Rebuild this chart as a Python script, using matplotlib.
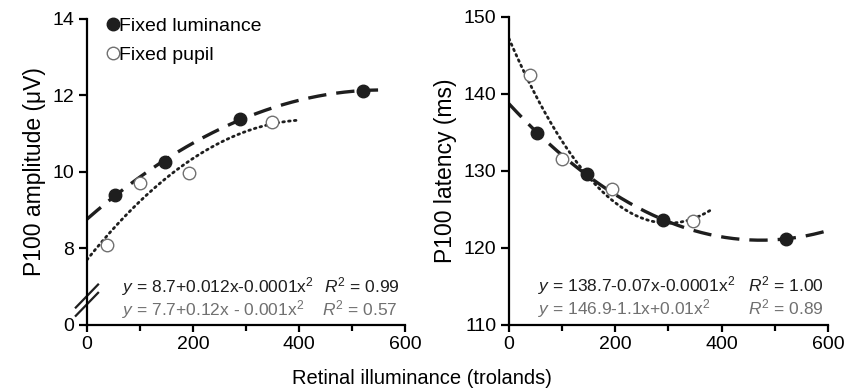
#P100 amplitude and latency vs retinal illuminance, two panels
import numpy as np
import matplotlib.pyplot as plt

plt.rcParams['font.family'] = ['Liberation Sans', 'DejaVu Sans']
plt.rcParams['mathtext.fontset'] = 'custom'
plt.rcParams['mathtext.rm'] = 'Liberation Sans'
plt.rcParams['mathtext.it'] = 'Liberation Sans:italic'

#values
lum_x = [53, 147, 289, 521]
lum_amp = [9.4, 10.26, 11.39, 12.12]
lum_lat = [134.9, 129.6, 123.6, 121.2]

pup_x_amp = [37, 100, 192, 349]
pup_amp = [8.09, 9.71, 9.97, 11.31]
pup_x_lat = [39, 100, 194, 346]
pup_lat = [142.5, 131.5, 127.7, 123.5]

#x range of each fitted curve
fit_end = {'amp_lum': 549, 'amp_pup': 400, 'lat_lum': 600, 'lat_pup': 380}

eq_amp = [r'$y$ = 8.7+0.012x-0.0001x$^2$', r'$y$ = 7.7+0.12x - 0.001x$^2$']
r2_amp = [r'$R^2$ = 0.99', r'$R^2$ = 0.57']
eq_lat = [r'$y$ = 138.7-0.07x-0.0001x$^2$', r'$y$ = 146.9-1.1x+0.01x$^2$']
r2_lat = [r'$R^2$ = 1.00', r'$R^2$ = 0.89']

dark = '#1e1e1e'
grey = '#707070'

fig = plt.figure(figsize=(8.44, 3.92), dpi=100)
ax1 = fig.add_axes([0.103, 0.171, 0.377, 0.781])
ax2 = fig.add_axes([0.603, 0.171, 0.378, 0.786])


def quad_fit(ax, x, y, xmax, style):
    c = np.polyfit(x, y, 2)
    xs = np.linspace(0, xmax, 200)
    if style == 'dash':
        ax.plot(xs, np.polyval(c, xs), color=dark, lw=2.4, dashes=(5.5, 3), zorder=2)
    else:
        ax.plot(xs, np.polyval(c, xs), color=dark, lw=2.0, dashes=(0.6, 1.5),
                dash_capstyle='round', zorder=2)


def style_axis(ax):
    for s in ['top', 'right']:
        ax.spines[s].set_visible(False)
    for s in ['left', 'bottom']:
        ax.spines[s].set_linewidth(1.6)
    ax.set_xlim(0, 600)
    ax.set_xticks([0, 200, 400, 600])
    ax.set_xticks([100, 300, 500], minor=True)
    ax.tick_params(which='both', direction='out', width=1.6, labelsize=14, pad=3)
    ax.tick_params(which='major', length=5)
    ax.tick_params(which='minor', length=4)
    ax.tick_params(axis='y', length=6)


#left panel - amplitude
quad_fit(ax1, lum_x, lum_amp, fit_end['amp_lum'], 'dash')
quad_fit(ax1, pup_x_amp, pup_amp, fit_end['amp_pup'], 'dot')
ax1.plot(lum_x, lum_amp, 'o', ms=9, mfc=dark, mec=dark, zorder=3, label='Fixed luminance')
ax1.plot(pup_x_amp, pup_amp, 'o', ms=9, mfc='white', mec=grey, mew=1.0, zorder=3,
         label='Fixed pupil')
ax1.set_ylim(6, 14)
ax1.set_yticks([6, 8, 10, 12, 14])
ax1.set_yticklabels(['0', '8', '10', '12', '14'])
style_axis(ax1)
ax1.set_ylabel('P100 amplitude (\u03bcV)', fontsize=16.5, labelpad=5)
ax1.legend(loc='upper left', frameon=False, fontsize=14, handletextpad=-0.3,
           handlelength=1.2, borderaxespad=0.0, labelspacing=0.6,
           bbox_to_anchor=(0.02, 1.03))

#axis break marks
for off in [0.0, 0.027]:
    ax1.plot([-0.035, 0.035], [0.03 + off, 0.105 + off], transform=ax1.transAxes,
             color=dark, lw=1.6, clip_on=False)

ax1.text(0.11, 0.106, eq_amp[0], transform=ax1.transAxes, fontsize=12.5, color=dark)
ax1.text(0.745, 0.106, r2_amp[0], transform=ax1.transAxes, fontsize=12.5, color=dark)
ax1.text(0.11, 0.032, eq_amp[1], transform=ax1.transAxes, fontsize=12.5, color=grey)
ax1.text(0.74, 0.032, r2_amp[1], transform=ax1.transAxes, fontsize=12.5, color=grey)

#right panel - latency
quad_fit(ax2, lum_x, lum_lat, fit_end['lat_lum'], 'dash')
quad_fit(ax2, pup_x_lat, pup_lat, fit_end['lat_pup'], 'dot')
ax2.plot(lum_x, lum_lat, 'o', ms=9, mfc=dark, mec=dark, zorder=3)
ax2.plot(pup_x_lat, pup_lat, 'o', ms=9, mfc='white', mec=grey, mew=1.0, zorder=3)
ax2.set_ylim(110, 150)
ax2.set_yticks([110, 120, 130, 140, 150])
style_axis(ax2)
ax2.set_ylabel('P100 latency (ms)', fontsize=16.5, labelpad=5)

ax2.text(0.09, 0.11, eq_lat[0], transform=ax2.transAxes, fontsize=12.5, color=dark)
ax2.text(0.75, 0.11, r2_lat[0], transform=ax2.transAxes, fontsize=12.5, color=dark)
ax2.text(0.09, 0.035, eq_lat[1], transform=ax2.transAxes, fontsize=12.5, color=grey)
ax2.text(0.75, 0.035, r2_lat[1], transform=ax2.transAxes, fontsize=12.5, color=grey)

fig.text(0.5, 0.02, 'Retinal illuminance (trolands)', ha='center', fontsize=14.5)

fig.savefig('out.png', dpi=100)
